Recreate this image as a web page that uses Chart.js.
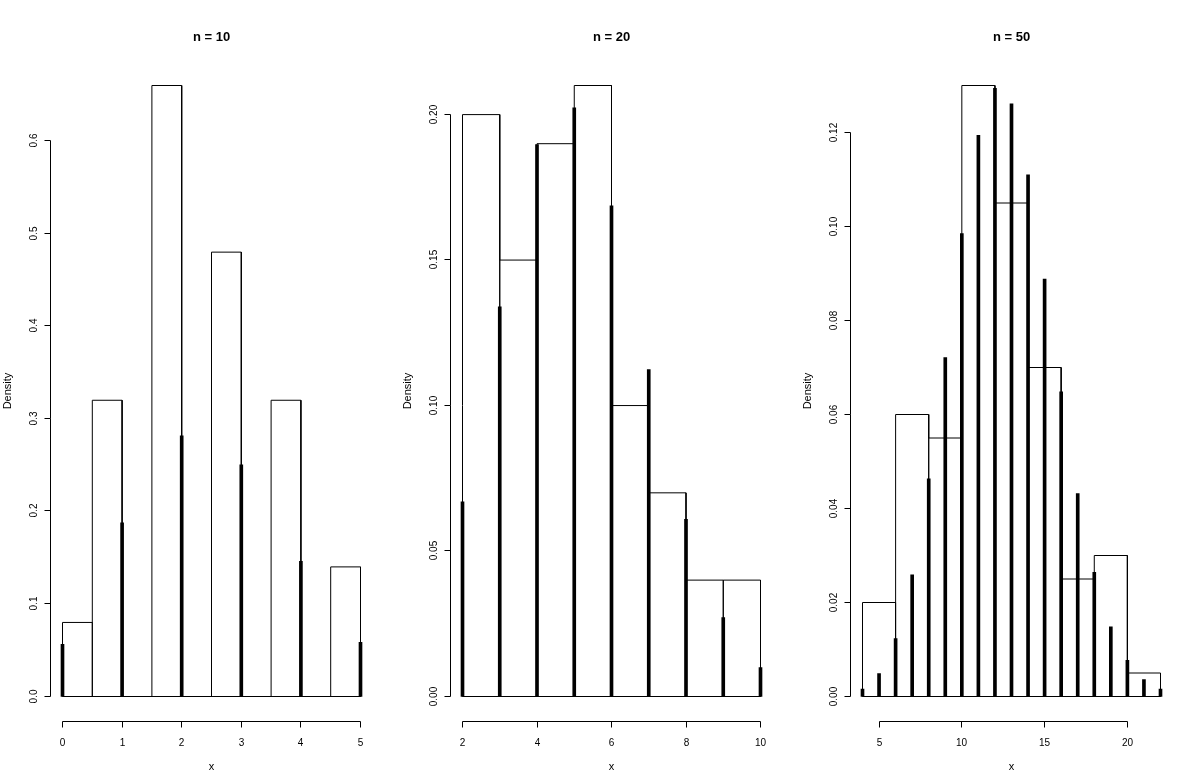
<!DOCTYPE html>
<html>
<head>
<meta charset="utf-8">
<title>Binomial histograms</title>
<script src="https://cdn.jsdelivr.net/npm/chart.js@4.4.0/dist/chart.umd.min.js"></script>
<style>
  html, body { margin: 0; padding: 0; background: #fff; overflow: hidden; }
  .panel { position: absolute; top: 0; width: 400px; height: 779px; }
</style>
</head>
<body>
<div class="panel" style="left:0px"><canvas id="chart10" width="400" height="779"></canvas></div>
<div class="panel" style="left:400px"><canvas id="chart20" width="400" height="779"></canvas></div>
<div class="panel" style="left:800px"><canvas id="chart50" width="400" height="779"></canvas></div>
<script>
// n = 10
const breaks10 = [0, 0.5, 1, 1.5, 2, 2.5, 3, 3.5, 4, 4.5, 5];
const density10 = [0.08, 0.32, 0, 0.66, 0, 0.48, 0, 0.32, 0, 0.14];
const support10 = [0, 1, 2, 3, 4, 5];
const pmf10 = [0.0563, 0.1877, 0.2816, 0.2503, 0.1460, 0.0584];
const xTicks10 = [0, 1, 2, 3, 4, 5];
const yTicks10 = [0, 0.1, 0.2, 0.3, 0.4, 0.5, 0.6];
const yLabels10 = ['0.0', '0.1', '0.2', '0.3', '0.4', '0.5', '0.6'];

// n = 20
const breaks20 = [2, 3, 4, 5, 6, 7, 8, 9, 10];
const density20 = [0.20, 0.15, 0.19, 0.21, 0.10, 0.07, 0.04, 0.04];
const support20 = [2, 3, 4, 5, 6, 7, 8, 9, 10];
const pmf20 = [0.0669, 0.1339, 0.1897, 0.2023, 0.1686, 0.1124, 0.0609, 0.0271, 0.0099];
const xTicks20 = [2, 4, 6, 8, 10];
const yTicks20 = [0, 0.05, 0.10, 0.15, 0.20];
const yLabels20 = ['0.00', '0.05', '0.10', '0.15', '0.20'];

// n = 50
const breaks50 = [4, 6, 8, 10, 12, 14, 16, 18, 20, 22];
const density50 = [0.02, 0.06, 0.055, 0.13, 0.105, 0.07, 0.025, 0.03, 0.005];
const support50 = [4, 5, 6, 7, 8, 9, 10, 11, 12, 13, 14, 15, 16, 17, 18, 19, 20, 21, 22];
const pmf50 = [0.0016, 0.0049, 0.0123, 0.0259, 0.0463, 0.0721, 0.0985, 0.1194, 0.1294,
               0.1261, 0.1110, 0.0888, 0.0648, 0.0432, 0.0264, 0.0148, 0.0077, 0.0036, 0.0016];
const xTicks50 = [5, 10, 15, 20];
const yTicks50 = [0, 0.02, 0.04, 0.06, 0.08, 0.10, 0.12];
const yLabels50 = ['0.00', '0.02', '0.04', '0.06', '0.08', '0.10', '0.12'];

const FONT = "'Liberation Sans', Arial, sans-serif";

// R-style axes: line only spans first..last tick, rotated y labels, titles
const rAxes = {
    id: 'rAxes',
    afterDraw(chart, args, opts) {
        const { ctx, chartArea: a, scales: { x, y } } = chart;
        const snap = p => Math.floor(p) + 0.5;
        ctx.save();
        ctx.strokeStyle = '#000';
        ctx.fillStyle = '#000';
        ctx.lineWidth = 1;

        // x axis
        const ay = snap(a.bottom + 0.5);
        const xs = opts.xTicks.map(v => snap(x.getPixelForValue(v)));
        ctx.beginPath();
        ctx.moveTo(xs[0], ay);
        ctx.lineTo(xs[xs.length - 1], ay);
        xs.forEach(px => { ctx.moveTo(px, ay); ctx.lineTo(px, ay + 6); });
        ctx.stroke();
        ctx.font = '10px ' + FONT;
        ctx.textAlign = 'center';
        ctx.textBaseline = 'alphabetic';
        opts.xTicks.forEach((v, i) => ctx.fillText(String(v), xs[i], 745.5));

        // y axis
        const ax = snap(a.left);
        const ys = opts.yTicks.map(v => snap(y.getPixelForValue(v) - 0.5));
        ctx.beginPath();
        ctx.moveTo(ax, ys[0]);
        ctx.lineTo(ax, ys[ys.length - 1]);
        ys.forEach(py => { ctx.moveTo(ax, py); ctx.lineTo(ax - 6, py); });
        ctx.stroke();
        opts.yLabels.forEach((lab, i) => {
            ctx.save();
            ctx.translate(36.5, ys[i]);
            ctx.rotate(-Math.PI / 2);
            ctx.fillText(lab, 0, 0);
            ctx.restore();
        });

        // axis titles
        const cx = (a.left + a.right) / 2;
        ctx.font = '11px ' + FONT;
        ctx.fillText('x', cx, 770);
        ctx.save();
        ctx.translate(11, (a.top + a.bottom) / 2);
        ctx.rotate(-Math.PI / 2);
        ctx.fillText('Density', 0, 0);
        ctx.restore();

        // main title
        ctx.font = 'bold 13px ' + FONT;
        ctx.fillText(opts.title, cx, 41);
        ctx.restore();
    }
};

function outline(breaks, heights) {
    // trace each histogram cell, then close along the baseline
    const pts = [{ x: breaks[0], y: 0 }];
    heights.forEach((h, i) => {
        pts.push({ x: breaks[i], y: h });
        pts.push({ x: breaks[i + 1], y: h });
        pts.push({ x: breaks[i + 1], y: 0 });
    });
    pts.push({ x: breaks[0], y: 0 });
    return pts;
}

function makePanel(id, title, breaks, heights, support, pmf, xTicks, yTicks, yLabels) {
    const lo = breaks[0], hi = breaks[breaks.length - 1];
    const top = Math.max(...heights);
    const dx = (hi - lo) * 0.04, dy = top * 0.04;

    return new Chart(document.getElementById(id), {
        type: 'bar',
        data: {
            datasets: [
                {
                    type: 'bar',
                    data: support.map((v, i) => ({ x: v, y: pmf[i] })),
                    backgroundColor: '#000',
                    borderWidth: 0,
                    barThickness: 3,
                    order: 0
                },
                {
                    type: 'line',
                    data: outline(breaks, heights),
                    borderColor: '#000',
                    borderWidth: 1,
                    pointRadius: 0,
                    tension: 0,
                    fill: false,
                    borderJoinStyle: 'miter',
                    order: 1
                }
            ]
        },
        options: {
            responsive: false,
            animation: false,
            events: [],
            layout: {
                padding: { left: 50.58, right: 27.58, top: 61.06, bottom: 58.06 }
            },
            scales: {
                x: {
                    type: 'linear',
                    display: false,
                    offset: false,
                    min: lo - dx,
                    max: hi + dx,
                    afterBuildTicks: s => { s.ticks = xTicks.map(v => ({ value: v })); }
                },
                y: {
                    type: 'linear',
                    display: false,
                    min: -dy,
                    max: top + dy,
                    afterBuildTicks: s => { s.ticks = yTicks.map(v => ({ value: v })); }
                }
            },
            plugins: {
                legend: { display: false },
                tooltip: { enabled: false },
                rAxes: { title: title, xTicks: xTicks, yTicks: yTicks, yLabels: yLabels }
            }
        },
        plugins: [rAxes]
    });
}

makePanel('chart10', 'n = 10', breaks10, density10, support10, pmf10, xTicks10, yTicks10, yLabels10);
makePanel('chart20', 'n = 20', breaks20, density20, support20, pmf20, xTicks20, yTicks20, yLabels20);
makePanel('chart50', 'n = 50', breaks50, density50, support50, pmf50, xTicks50, yTicks50, yLabels50);
</script>
</body>
</html>
